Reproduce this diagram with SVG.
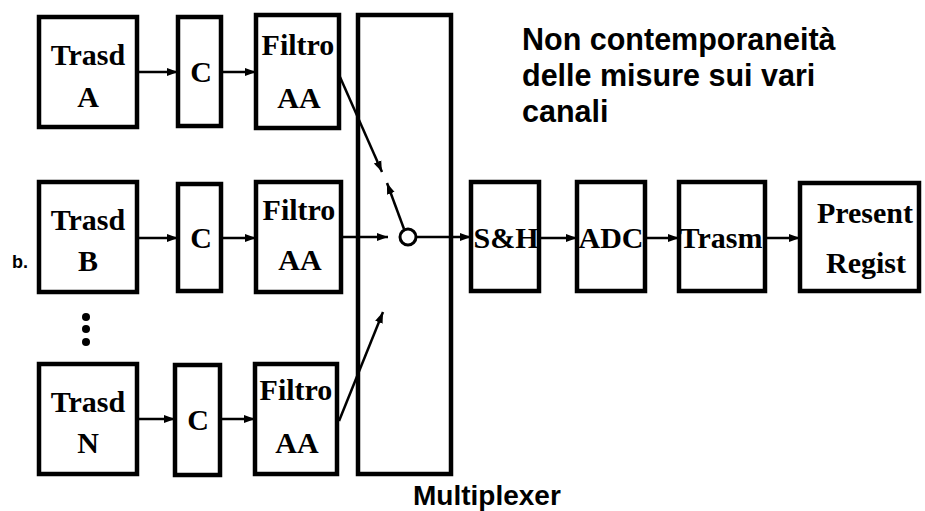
<svg xmlns="http://www.w3.org/2000/svg" width="925" height="511" viewBox="0 0 925 511">
<defs>
<style>
.box{fill:#fff;stroke:#000;stroke-width:4.5}
.t{font-family:"Liberation Serif","Times New Roman",serif;font-weight:bold;font-size:30px;fill:#000;text-anchor:middle}
.s{font-family:"Liberation Sans",Arial,sans-serif;font-weight:bold;fill:#000}
.c{stroke:#000;stroke-width:2.5;fill:none}
</style>
<marker id="ah" markerUnits="userSpaceOnUse" markerWidth="12" markerHeight="10" refX="11" refY="5" orient="auto">
<path d="M0,1 L11,5 L0,9 Z" fill="#000"/>
</marker>
</defs>
<rect width="925" height="511" fill="#fff"/>

<g id="mux"><rect class="box" x="358" y="15" width="93" height="459"/></g>

<g id="connectors">
<line class="c" x1="137" y1="72" x2="178" y2="72" marker-end="url(#ah)"/>
<line class="c" x1="221" y1="72" x2="256" y2="72" marker-end="url(#ah)"/>
<line class="c" x1="137" y1="238" x2="178" y2="238" marker-end="url(#ah)"/>
<line class="c" x1="221" y1="238" x2="256" y2="238" marker-end="url(#ah)"/>
<line class="c" x1="137" y1="419" x2="175" y2="419" marker-end="url(#ah)"/>
<line class="c" x1="220" y1="419" x2="255" y2="419" marker-end="url(#ah)"/>
<line class="c" x1="341" y1="237" x2="388" y2="237" marker-end="url(#ah)"/>
<line class="c" x1="340" y1="77" x2="382" y2="172" marker-end="url(#ah)"/>
<line class="c" x1="404" y1="229" x2="387" y2="183" marker-end="url(#ah)"/>
<line class="c" x1="339" y1="421" x2="383" y2="312" marker-end="url(#ah)"/>
<line class="c" x1="416" y1="237" x2="471" y2="237" stroke-width="4" marker-end="url(#ah)"/>
<circle cx="408" cy="237" r="8" fill="#fff" stroke="#000" stroke-width="3"/>
<line class="c" x1="541" y1="238" x2="577" y2="238" marker-end="url(#ah)"/>
<line class="c" x1="645" y1="238" x2="679" y2="238" marker-end="url(#ah)"/>
<line class="c" x1="767" y1="238" x2="800" y2="238" marker-end="url(#ah)"/>
</g>

<g id="trasdA"><rect class="box" x="39" y="17" width="98" height="110"/><text class="t" x="88" y="65">Trasd</text><text class="t" x="88" y="107">A</text></g>
<g id="cA"><rect class="box" x="178" y="17" width="43" height="109"/><text class="t" x="201" y="82">C</text></g>
<g id="filtroA"><rect class="box" x="256" y="15" width="83" height="113"/><text class="t" x="298" y="55">Filtro</text><text class="t" x="299" y="108">AA</text></g>

<g id="trasdB"><rect class="box" x="39" y="182" width="98" height="110"/><text class="t" x="88" y="230">Trasd</text><text class="t" x="88" y="271">B</text></g>
<g id="cB"><rect class="box" x="178" y="184" width="43" height="107"/><text class="t" x="201" y="248">C</text></g>
<g id="filtroB"><rect class="box" x="256" y="182" width="85" height="110"/><text class="t" x="299" y="220">Filtro</text><text class="t" x="300" y="270">AA</text></g>

<g id="trasdN"><rect class="box" x="39" y="364" width="98" height="110"/><text class="t" x="88" y="412">Trasd</text><text class="t" x="88" y="453">N</text></g>
<g id="cN"><rect class="box" x="175" y="365" width="45" height="110"/><text class="t" x="198" y="430">C</text></g>
<g id="filtroN"><rect class="box" x="255" y="364" width="82" height="110"/><text class="t" x="296" y="400">Filtro</text><text class="t" x="297" y="453">AA</text></g>

<g id="dots"><circle cx="86" cy="317" r="4"/><circle cx="86" cy="329" r="4"/><circle cx="86" cy="342" r="4"/></g>

<g id="sh"><rect class="box" x="471" y="182" width="68" height="109"/><text class="t" x="506" y="248">S&amp;H</text></g>
<g id="adc"><rect class="box" x="577" y="182" width="68" height="109"/><text class="t" x="611" y="248">ADC</text></g>
<g id="trasm"><rect class="box" x="679" y="182" width="86" height="109"/><text class="t" x="721" y="248">Trasm</text></g>
<g id="present"><rect class="box" x="800" y="183" width="119" height="108"/><text class="t" x="865" y="223">Present</text><text class="t" x="866" y="273">Regist</text></g>

<text class="s" x="12" y="268" font-size="18">b.</text>
<text class="s" x="413" y="505" font-size="28">Multiplexer</text>
<g class="s" font-size="30.5">
<text x="522" y="50">Non contemporaneità</text>
<text x="522" y="86">delle misure sui vari</text>
<text x="522" y="122">canali</text>
</g>
</svg>
